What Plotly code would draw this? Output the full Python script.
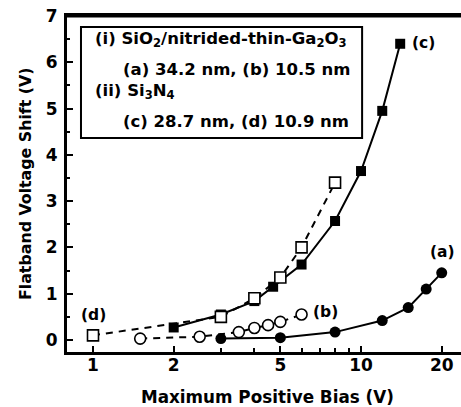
import numpy as np
import plotly.graph_objects as go

# Series (a): SiO2/nitrided-thin-Ga2O3, 34.2 nm (filled circles, solid)
a_x = [3, 5, 8, 12, 15, 17.5, 20]
a_y = [0.03, 0.05, 0.17, 0.42, 0.70, 1.10, 1.45]
# Series (b): SiO2/nitrided-thin-Ga2O3, 10.5 nm (open circles, dashed)
b_x = [1.5, 2.5, 3.5, 4, 4.5, 5, 6]
b_y = [0.03, 0.07, 0.17, 0.26, 0.32, 0.39, 0.55]
# Series (c): Si3N4, 28.7 nm (filled squares, solid)
c_x = [2, 3, 4, 4.7, 6, 8, 10, 12, 14]
c_y = [0.27, 0.55, 0.84, 1.15, 1.63, 2.57, 3.65, 4.95, 6.40]
# Series (d): Si3N4, 10.9 nm (open squares, dashed)
d_x = [1, 3, 4, 5, 6, 8]
d_y = [0.10, 0.50, 0.90, 1.35, 2.00, 3.40]

x_ticks = [1, 2, 5, 10, 20]
x_minor = [3, 4, 6, 7, 8, 9]
y_ticks = [0, 1, 2, 3, 4, 5, 6, 7]

FONT = "DejaVu Sans"
fig = go.Figure()

fig.add_trace(go.Scatter(x=d_x, y=d_y, mode="lines", line=dict(color="black", width=2, dash="7px,6px"), showlegend=False))
fig.add_trace(go.Scatter(x=b_x, y=b_y, mode="lines", line=dict(color="black", width=2, dash="7px,6px"), showlegend=False))
fig.add_trace(go.Scatter(x=c_x, y=c_y, mode="lines+markers", line=dict(color="black", width=2),
                         marker=dict(symbol="square", size=10, color="black"), showlegend=False))
fig.add_trace(go.Scatter(x=a_x, y=a_y, mode="lines+markers", line=dict(color="black", width=2),
                         marker=dict(symbol="circle", size=11, color="black"), showlegend=False))
fig.add_trace(go.Scatter(x=d_x, y=d_y, mode="markers",
                         marker=dict(symbol="square", size=11, color="white", line=dict(color="black", width=1.6)), showlegend=False))
fig.add_trace(go.Scatter(x=b_x, y=b_y, mode="markers",
                         marker=dict(symbol="circle", size=11, color="white", line=dict(color="black", width=1.6)), showlegend=False))

tickfont = dict(family=FONT, size=17, color="black", weight="bold")
fig.update_xaxes(type="log", range=[-0.097, 1.373], tickvals=x_ticks, ticktext=[str(v) for v in x_ticks],
                 ticks="inside", ticklen=6, tickwidth=2, tickcolor="black",
                 minor=dict(tickvals=x_minor, ticks="inside", ticklen=4, tickwidth=2, tickcolor="black"),
                 showline=True, linecolor="black", linewidth=3, mirror=True, showgrid=False, zeroline=False,
                 tickfont=tickfont, ticklabelstandoff=-4)
fig.update_yaxes(range=[-0.26, 7.0], tickvals=y_ticks, ticks="inside", ticklen=6, tickwidth=2, tickcolor="black",
                 minor=dict(dtick=0.5, ticks="inside", ticklen=3, tickwidth=2, tickcolor="black"),
                 showline=True, linecolor="black", linewidth=3, showgrid=False, zeroline=False,
                 tickfont=tickfont, ticklabelstandoff=3)

# top border only (no right border in reference)
fig.add_shape(type="line", xref="paper", yref="paper", x0=0, x1=1, y0=1, y1=1, line=dict(color="black", width=3))

# legend box
fig.add_shape(type="rect", xref="paper", yref="paper", x0=0.0355, x1=0.749, y0=0.637, y1=0.967,
              line=dict(color="black", width=2), fillcolor="white")

lf = dict(family=FONT, size=16.5, color="black", weight="bold")
legend_lines = [
    ("(i) SiO<sub>2</sub>/nitrided-thin-Ga<sub>2</sub>O<sub>3</sub>", 0.066, 0.929),
    ("(a) 34.2 nm, (b) 10.5 nm", 0.137, 0.842),
    ("(ii) Si<sub>3</sub>N<sub>4</sub>", 0.066, 0.774),
    ("(c) 28.7 nm, (d) 10.9 nm", 0.137, 0.6875),
]
for t, x, y in legend_lines:
    fig.add_annotation(text=t, xref="paper", yref="paper", x=x, y=y, xanchor="left", yanchor="middle",
                       showarrow=False, font=lf)

labf = dict(family=FONT, size=15.5, color="black", weight="bold")
labels = [("(a)", 0.952, 0.298), ("(b)", 0.655, 0.119), ("(c)", 0.904, 0.920), ("(d)", 0.068, 0.110)]
for t, x, y in labels:
    fig.add_annotation(text=t, xref="paper", yref="paper", x=x, y=y, xanchor="center", yanchor="middle",
                       showarrow=False, font=labf)

# axis titles
fig.add_annotation(text="Maximum Positive Bias (V)", xref="paper", yref="paper", x=0.508, y=-0.134,
                   xanchor="center", yanchor="middle", showarrow=False,
                   font=dict(family=FONT, size=16.8, color="black", weight="bold"))
fig.add_annotation(text="Flatband Voltage Shift (V)", xref="paper", yref="paper", x=-0.1066, y=0.50,
                   xanchor="center", yanchor="middle", textangle=-90, showarrow=False,
                   font=dict(family=FONT, size=15.8, color="black", weight="bold"))

fig.update_layout(width=461, height=407, margin=dict(l=67, r=0, t=16, b=55),
                  paper_bgcolor="white", plot_bgcolor="white")
fig.write_html("out.html", config={"displayModeBar": False},
               post_script="document.body.style.margin='0';")
